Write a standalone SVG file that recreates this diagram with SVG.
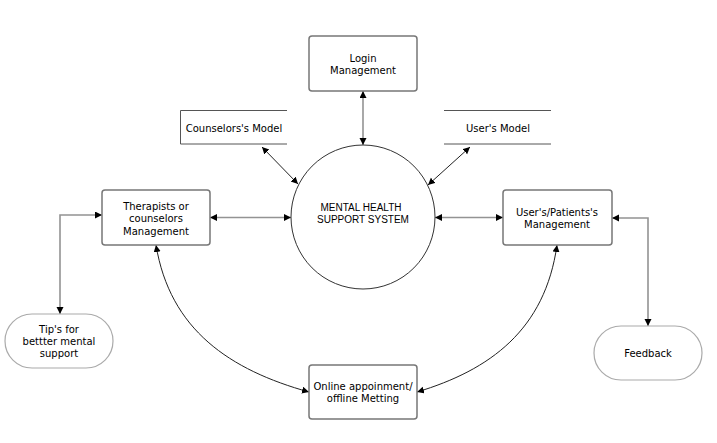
<svg xmlns="http://www.w3.org/2000/svg" width="717" height="443" viewBox="0 0 717 443">
<style>
.box{fill:#fff;stroke:#777;stroke-width:1.5}
.term{fill:#fff;stroke:#aaa;stroke-width:1.2}
.store{fill:none;stroke:#555;stroke-width:1}
.proc{fill:#fff;stroke:#333;stroke-width:1}
.t{font-family:"DejaVu Sans",Verdana,sans-serif;font-size:10px;fill:#000;text-anchor:middle}
.tc{font-family:"Liberation Sans",Arial,sans-serif;font-size:10px;fill:#000;text-anchor:middle}
.c{fill:none;stroke:#939393;stroke-width:1.6;marker-start:url(#ah);marker-end:url(#ah)}
.cb{fill:none;stroke:#222;stroke-width:1;marker-start:url(#ah);marker-end:url(#ah)}
</style>
<defs>
<marker id="ah" markerUnits="userSpaceOnUse" markerWidth="8" markerHeight="8" refX="7" refY="3.5" orient="auto-start-reverse">
<path d="M0,0 L7,3.5 L0,7 z" fill="#000"/>
</marker>
</defs>
<rect width="717" height="443" fill="#fff"/>
<g id="connectors">
<path class="c" d="M363,91 V145"/>
<path class="cb" d="M262,147 L298,184"/>
<path class="cb" d="M470,147 L428,185"/>
<path class="c" d="M210,217.5 H291"/>
<path class="c" d="M435,217.5 H503"/>
<path class="c" d="M60,314 V215 H102"/>
<path class="c" d="M612,218 H648 V326"/>
<path class="cb" d="M156,245 C170,330 230,370 309,392"/>
<path class="cb" d="M557,245 C545,330 490,370 417,392"/>
</g>
<g id="login">
<rect class="box" x="309" y="36" width="108" height="55" rx="3"/>
<text class="t" x="363" y="62">Login</text>
<text class="t" x="363" y="74">Management</text>
</g>
<g id="counselors-model">
<path class="store" d="M287,110.5 H180.5 V144 H287"/>
<text class="t" x="234" y="131.5">Counselors's Model</text>
</g>
<g id="users-model">
<path class="store" d="M444,110.5 H551 M444,144 H551"/>
<text class="t" x="498" y="131.5">User's Model</text>
</g>
<g id="system">
<circle class="proc" cx="363" cy="217" r="72"/>
<text class="tc" x="361" y="210.5">MENTAL HEALTH</text>
<text class="tc" x="363" y="222.5">SUPPORT SYSTEM</text>
</g>
<g id="therapists">
<rect class="box" x="102" y="190" width="108" height="55" rx="3"/>
<text class="t" x="156" y="210">Therapists or</text>
<text class="t" x="156" y="222">counselors</text>
<text class="t" x="156" y="234.5">Management</text>
</g>
<g id="users">
<rect class="box" x="503" y="190" width="109" height="55" rx="3"/>
<text class="t" x="557" y="216">User's/Patients's</text>
<text class="t" x="557" y="228">Management</text>
</g>
<g id="tips">
<rect class="term" x="5" y="314" width="108" height="54" rx="27"/>
<text class="t" x="59" y="333">Tip's for</text>
<text class="t" x="59" y="345">bettter mental</text>
<text class="t" x="59" y="357">support</text>
</g>
<g id="feedback">
<rect class="term" x="594" y="326" width="108" height="54" rx="27"/>
<text class="t" x="648" y="357">Feedback</text>
</g>
<g id="appointment">
<rect class="box" x="309" y="365" width="108" height="54" rx="3"/>
<text class="t" x="363" y="390">Online appoinment/</text>
<text class="t" x="363" y="402">offline Metting</text>
</g>
</svg>
